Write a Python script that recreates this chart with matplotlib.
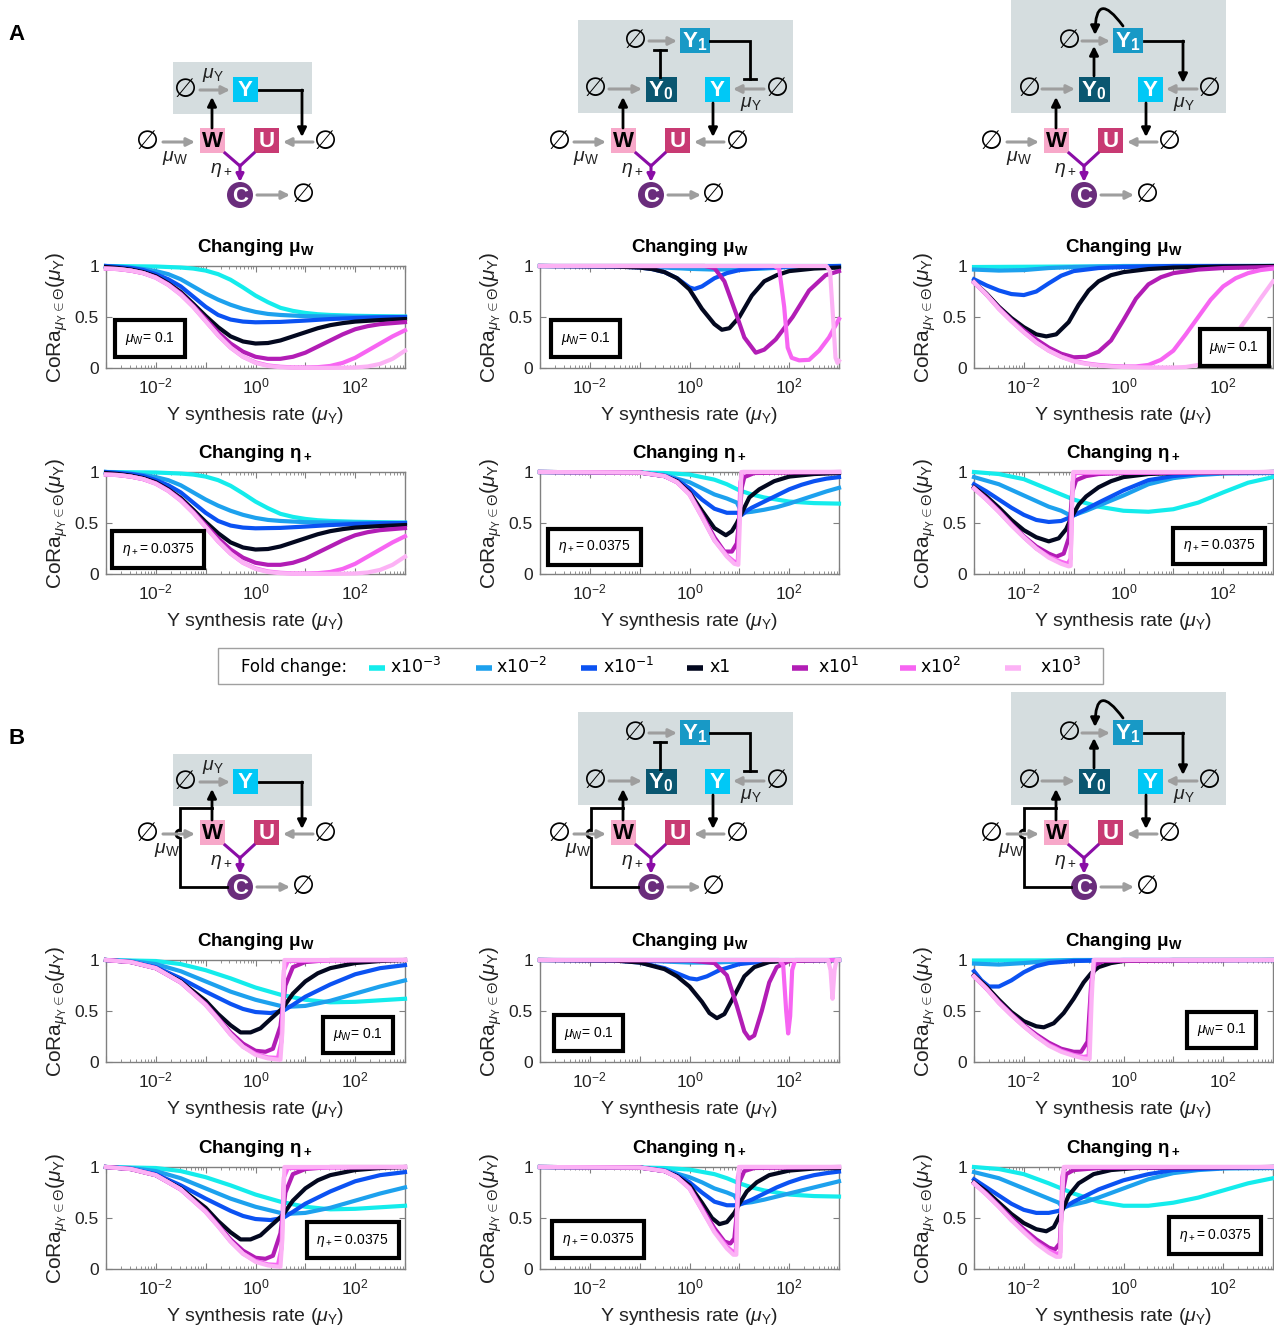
import numpy as np
import matplotlib
matplotlib.use('Agg')
import matplotlib.pyplot as plt
from matplotlib.patches import Rectangle, Circle, Arc, FancyArrowPatch
from matplotlib.ticker import FixedLocator, FuncFormatter, LogLocator, NullFormatter

plt.rcParams['font.family'] = ['Liberation Sans', 'DejaVu Sans']
plt.rcParams['mathtext.fontset'] = 'custom'
plt.rcParams['mathtext.rm'] = 'Liberation Sans'
plt.rcParams['mathtext.it'] = 'Liberation Sans:italic'
plt.rcParams['mathtext.bf'] = 'Liberation Sans:bold'

# fold changes applied to the parameter
folds = ['x10$^{-3}$', 'x10$^{-2}$', 'x10$^{-1}$', 'x1', 'x10$^{1}$', 'x10$^{2}$', 'x10$^{3}$']
fold_colors = ['#14ECEC', '#1DA1EE', '#0B52F2', '#03081F', '#B21DB5', '#F765F2', '#FCB2F5']

# CoRa curves: (log10 mu_Y, CoRa) pairs, one list per fold change
A_mu_c1 = [
    [(-3, 1.0), (-2, 0.995), (-1.5, 0.985), (-1.25, 0.975), (-1, 0.955), (-0.75, 0.92), (-0.5, 0.865), (-0.25, 0.79), (0, 0.71), (0.25, 0.645), (0.5, 0.59), (0.75, 0.56), (1, 0.54), (1.25, 0.527), (1.5, 0.52), (2, 0.512), (2.5, 0.508), (3, 0.505)],
    [(-3, 1.0), (-2.75, 0.995), (-2.5, 0.985), (-2.25, 0.97), (-2, 0.95), (-1.75, 0.92), (-1.5, 0.87), (-1.25, 0.80), (-1, 0.73), (-0.75, 0.67), (-0.5, 0.62), (-0.25, 0.58), (0, 0.55), (0.25, 0.53), (0.5, 0.52), (1, 0.508), (2, 0.503), (3, 0.50)],
    [(-3, 1.0), (-2.75, 0.99), (-2.5, 0.98), (-2.25, 0.96), (-2, 0.92), (-1.75, 0.87), (-1.5, 0.80), (-1.25, 0.70), (-1, 0.60), (-0.75, 0.52), (-0.5, 0.475), (-0.25, 0.455), (0, 0.448), (0.5, 0.452), (1, 0.465), (1.5, 0.48), (2, 0.49), (2.5, 0.497), (3, 0.50)],
    [(-3, 0.99), (-2.75, 0.98), (-2.5, 0.965), (-2.25, 0.94), (-2, 0.90), (-1.75, 0.83), (-1.5, 0.745), (-1.25, 0.63), (-1, 0.51), (-0.75, 0.40), (-0.5, 0.31), (-0.25, 0.26), (0, 0.24), (0.25, 0.245), (0.5, 0.27), (0.75, 0.31), (1, 0.35), (1.25, 0.39), (1.5, 0.42), (1.75, 0.44), (2, 0.455), (2.5, 0.47), (3, 0.48)],
    [(-3, 0.975), (-2.75, 0.97), (-2.5, 0.955), (-2.25, 0.93), (-2, 0.89), (-1.75, 0.82), (-1.5, 0.73), (-1.25, 0.61), (-1, 0.48), (-0.75, 0.35), (-0.5, 0.24), (-0.25, 0.16), (0, 0.11), (0.25, 0.09), (0.5, 0.09), (0.75, 0.11), (1, 0.15), (1.25, 0.21), (1.5, 0.27), (1.75, 0.33), (2, 0.38), (2.25, 0.41), (2.5, 0.43), (2.75, 0.44), (3, 0.45)],
    [(-3, 0.975), (-2.75, 0.97), (-2.5, 0.955), (-2.25, 0.93), (-2, 0.885), (-1.75, 0.815), (-1.5, 0.72), (-1.25, 0.60), (-1, 0.46), (-0.75, 0.32), (-0.5, 0.20), (-0.25, 0.11), (0, 0.055), (0.25, 0.025), (0.5, 0.012), (0.75, 0.006), (1, 0.005), (1.25, 0.008), (1.5, 0.02), (1.75, 0.05), (2, 0.10), (2.25, 0.17), (2.5, 0.24), (2.75, 0.31), (3, 0.37)],
    [(-3, 0.975), (-2.75, 0.97), (-2.5, 0.955), (-2.25, 0.93), (-2, 0.885), (-1.75, 0.815), (-1.5, 0.72), (-1.25, 0.60), (-1, 0.46), (-0.75, 0.32), (-0.5, 0.20), (-0.25, 0.11), (0, 0.05), (0.25, 0.02), (0.5, 0.008), (0.75, 0.003), (1, 0.001), (1.5, 0.001), (2, 0.005), (2.25, 0.015), (2.5, 0.04), (2.75, 0.09), (3, 0.17)],
]

A_mu_c2 = [
    [(-3, 1.0), (3, 1.0)],
    [(-3, 1.0), (-1, 0.995), (-0.5, 0.985), (0, 0.972), (0.5, 0.965), (1, 0.966), (1.5, 0.975), (2, 0.99), (3, 1.0)],
    [(-3, 1.0), (-1.5, 0.995), (-1, 0.985), (-0.75, 0.97), (-0.5, 0.94), (-0.25, 0.88), (0, 0.79), (0.1, 0.775), (0.25, 0.80), (0.5, 0.88), (0.75, 0.93), (1, 0.96), (1.5, 0.985), (2, 0.995), (3, 1.0)],
    [(-3, 1.0), (-1.5, 0.995), (-1, 0.985), (-0.75, 0.97), (-0.5, 0.94), (-0.25, 0.88), (0, 0.77), (0.25, 0.58), (0.5, 0.43), (0.65, 0.375), (0.8, 0.39), (1, 0.50), (1.25, 0.71), (1.5, 0.85), (1.75, 0.91), (2, 0.95), (2.5, 0.975), (3, 0.985)],
    [(-3, 1.0), (0.3, 1.0), (0.5, 0.98), (0.7, 0.85), (0.93, 0.54), (1.1, 0.30), (1.33, 0.15), (1.5, 0.18), (1.73, 0.28), (2.07, 0.50), (2.4, 0.76), (2.73, 0.91), (3, 0.95)],
    [(-3, 1.0), (1.7, 1.0), (1.8, 0.97), (1.9, 0.6), (1.97, 0.2), (2.05, 0.1), (2.2, 0.075), (2.4, 0.08), (2.6, 0.17), (2.8, 0.30), (3, 0.48)],
    [(-3, 1.0), (2.75, 1.0), (2.82, 0.95), (2.88, 0.5), (2.93, 0.1), (2.97, 0.05), (3, 0.07)],
]

A_mu_c3 = [
    [(-3, 0.99), (-1, 0.995), (3, 1.0)],
    [(-3, 0.965), (-2.5, 0.955), (-2, 0.96), (-1.5, 0.98), (-1, 0.99), (0, 1.0), (3, 1.0)],
    [(-3, 0.87), (-2.75, 0.81), (-2.5, 0.76), (-2.25, 0.725), (-2, 0.715), (-1.75, 0.75), (-1.5, 0.83), (-1.25, 0.905), (-1, 0.95), (-0.5, 0.98), (0, 0.99), (1, 1.0), (3, 1.0)],
    [(-3, 0.84), (-2.75, 0.73), (-2.5, 0.60), (-2.25, 0.49), (-2, 0.40), (-1.75, 0.33), (-1.55, 0.31), (-1.35, 0.33), (-1.1, 0.45), (-0.9, 0.62), (-0.7, 0.76), (-0.5, 0.85), (-0.25, 0.91), (0, 0.94), (0.5, 0.97), (1, 0.985), (2, 0.995), (3, 1.0)],
    [(-3, 0.84), (-2.75, 0.72), (-2.5, 0.59), (-2.25, 0.47), (-2, 0.37), (-1.75, 0.28), (-1.5, 0.20), (-1.25, 0.14), (-1, 0.105), (-0.75, 0.11), (-0.5, 0.16), (-0.25, 0.27), (0, 0.47), (0.25, 0.68), (0.5, 0.82), (0.75, 0.89), (1, 0.93), (1.5, 0.965), (2, 0.98), (3, 0.99)],
    [(-3, 0.84), (-2.75, 0.72), (-2.5, 0.58), (-2.25, 0.46), (-2, 0.35), (-1.75, 0.25), (-1.5, 0.17), (-1.25, 0.11), (-1, 0.07), (-0.75, 0.045), (-0.5, 0.03), (-0.25, 0.02), (0, 0.015), (0.25, 0.015), (0.5, 0.03), (0.75, 0.08), (1, 0.17), (1.25, 0.33), (1.5, 0.50), (1.75, 0.67), (2, 0.80), (2.25, 0.88), (2.5, 0.93), (2.75, 0.96), (3, 0.975)],
    [(-3, 0.84), (-2.75, 0.72), (-2.5, 0.58), (-2.25, 0.46), (-2, 0.35), (-1.75, 0.25), (-1.5, 0.17), (-1.25, 0.11), (-1, 0.065), (-0.75, 0.04), (-0.5, 0.025), (-0.25, 0.015), (0, 0.01), (0.5, 0.005), (1, 0.005), (1.25, 0.01), (1.5, 0.03), (1.75, 0.08), (2, 0.18), (2.25, 0.33), (2.5, 0.50), (2.75, 0.68), (3, 0.85)],
]

# the eta_+ sweep for the single-Y controller gives the same profiles
A_eta_c1 = A_mu_c1

A_eta_c2 = [
    [(-3, 1.0), (-1, 0.995), (-0.5, 0.99), (0, 0.975), (0.5, 0.925), (0.75, 0.88), (1, 0.82), (1.25, 0.78), (1.5, 0.75), (2, 0.71), (2.5, 0.695), (3, 0.69)],
    [(-3, 1.0), (-1, 0.995), (-0.5, 0.97), (0, 0.90), (0.25, 0.84), (0.5, 0.78), (0.75, 0.74), (0.95, 0.70), (1.05, 0.60), (1.25, 0.61), (1.5, 0.63), (1.75, 0.655), (2, 0.69), (2.25, 0.73), (2.5, 0.77), (2.75, 0.81), (3, 0.845)],
    [(-3, 1.0), (-1, 0.995), (-0.5, 0.96), (-0.25, 0.92), (0, 0.84), (0.25, 0.73), (0.5, 0.64), (0.75, 0.60), (0.95, 0.60), (1.05, 0.58), (1.15, 0.62), (1.25, 0.65), (1.5, 0.71), (1.75, 0.77), (2, 0.83), (2.25, 0.875), (2.5, 0.91), (2.75, 0.935), (3, 0.95)],
    [(-3, 1.0), (-1, 0.995), (-0.5, 0.96), (-0.25, 0.91), (0, 0.80), (0.25, 0.62), (0.5, 0.45), (0.73, 0.38), (0.85, 0.42), (0.95, 0.50), (1.05, 0.60), (1.2, 0.75), (1.4, 0.83), (1.7, 0.91), (2, 0.955), (2.5, 0.98), (3, 0.99)],
    [(-3, 1.0), (-1, 0.995), (-0.5, 0.96), (-0.25, 0.90), (0, 0.79), (0.25, 0.58), (0.5, 0.36), (0.7, 0.22), (0.85, 0.22), (0.95, 0.30), (1.0, 0.55), (1.05, 0.85), (1.1, 0.95), (1.3, 0.99), (3, 1.0)],
    [(-3, 1.0), (-1, 0.995), (-0.5, 0.96), (-0.25, 0.90), (0, 0.78), (0.25, 0.56), (0.5, 0.33), (0.75, 0.18), (0.9, 0.12), (0.97, 0.12), (1.02, 0.9), (1.07, 1.0), (3, 1.0)],
    [(-3, 1.0), (-1, 0.995), (-0.5, 0.96), (-0.25, 0.90), (0, 0.78), (0.25, 0.56), (0.5, 0.33), (0.75, 0.17), (0.9, 0.10), (0.98, 0.09), (1.01, 0.5), (1.04, 1.0), (3, 1.0)],
]

A_eta_c3 = [
    [(-3, 1.0), (-2.5, 0.98), (-2, 0.93), (-1.5, 0.83), (-1, 0.73), (-0.5, 0.66), (0, 0.62), (0.5, 0.61), (1, 0.635), (1.5, 0.70), (2, 0.80), (2.5, 0.895), (3, 0.95)],
    [(-3, 0.95), (-2.5, 0.88), (-2, 0.77), (-1.5, 0.66), (-1.25, 0.62), (-1.05, 0.57), (-0.95, 0.585), (-0.75, 0.62), (-0.5, 0.67), (0, 0.77), (0.5, 0.88), (1, 0.94), (1.5, 0.97), (2, 0.985), (3, 0.99)],
    [(-3, 0.88), (-2.75, 0.81), (-2.5, 0.73), (-2.25, 0.65), (-2, 0.58), (-1.75, 0.53), (-1.5, 0.51), (-1.25, 0.52), (-1.05, 0.56), (-0.9, 0.60), (-0.5, 0.70), (0, 0.82), (0.5, 0.92), (1, 0.96), (1.5, 0.985), (2, 0.99), (3, 1.0)],
    [(-3, 0.85), (-2.75, 0.76), (-2.5, 0.65), (-2.25, 0.53), (-2, 0.43), (-1.75, 0.36), (-1.5, 0.32), (-1.3, 0.35), (-1.15, 0.44), (-1.05, 0.55), (-0.9, 0.68), (-0.75, 0.76), (-0.5, 0.85), (-0.25, 0.91), (0, 0.95), (0.5, 0.98), (1, 0.99), (3, 1.0)],
    [(-3, 0.84), (-2.75, 0.74), (-2.5, 0.62), (-2.25, 0.49), (-2, 0.37), (-1.75, 0.27), (-1.5, 0.20), (-1.35, 0.17), (-1.2, 0.20), (-1.1, 0.35), (-1.03, 0.80), (-0.95, 0.92), (-0.75, 0.96), (-0.5, 0.98), (0, 0.99), (3, 1.0)],
    [(-3, 0.84), (-2.75, 0.73), (-2.5, 0.61), (-2.25, 0.48), (-2, 0.36), (-1.75, 0.25), (-1.5, 0.17), (-1.25, 0.12), (-1.12, 0.10), (-1.06, 0.15), (-1.02, 0.9), (-0.97, 0.99), (3, 1.0)],
    [(-3, 0.84), (-2.75, 0.73), (-2.5, 0.61), (-2.25, 0.48), (-2, 0.36), (-1.75, 0.25), (-1.5, 0.16), (-1.25, 0.10), (-1.1, 0.075), (-1.06, 0.08), (-1.04, 0.6), (-1.01, 1.0), (3, 1.0)],
]

B_mu_c1 = [
    [(-3, 1.0), (-2, 0.99), (-1.5, 0.96), (-1, 0.90), (-0.5, 0.82), (0, 0.73), (0.5, 0.66), (1, 0.61), (1.5, 0.585), (2, 0.59), (2.5, 0.605), (3, 0.62)],
    [(-3, 1.0), (-2.5, 0.99), (-2, 0.96), (-1.5, 0.89), (-1, 0.79), (-0.5, 0.69), (0, 0.61), (0.5, 0.55), (0.6, 0.54), (1, 0.55), (1.5, 0.60), (2, 0.67), (2.5, 0.74), (3, 0.80)],
    [(-3, 1.0), (-2.5, 0.98), (-2, 0.93), (-1.5, 0.82), (-1, 0.69), (-0.5, 0.57), (-0.25, 0.52), (0, 0.49), (0.3, 0.48), (0.55, 0.50), (0.75, 0.56), (1, 0.64), (1.5, 0.76), (2, 0.86), (2.5, 0.92), (3, 0.95)],
    [(-3, 1.0), (-2.5, 0.98), (-2, 0.92), (-1.5, 0.79), (-1, 0.60), (-0.75, 0.47), (-0.5, 0.36), (-0.3, 0.29), (-0.1, 0.29), (0.1, 0.33), (0.3, 0.42), (0.55, 0.53), (0.75, 0.67), (1, 0.79), (1.25, 0.87), (1.5, 0.92), (2, 0.97), (2.5, 0.99), (3, 1.0)],
    [(-3, 1.0), (-2.5, 0.98), (-2, 0.92), (-1.5, 0.78), (-1, 0.57), (-0.75, 0.43), (-0.5, 0.29), (-0.25, 0.18), (0, 0.11), (0.2, 0.10), (0.35, 0.13), (0.5, 0.35), (0.6, 0.75), (0.75, 0.93), (1, 0.98), (1.5, 1.0), (3, 1.0)],
    [(-3, 1.0), (-2.5, 0.98), (-2, 0.92), (-1.5, 0.78), (-1, 0.56), (-0.75, 0.42), (-0.5, 0.27), (-0.25, 0.15), (0, 0.08), (0.25, 0.045), (0.45, 0.04), (0.52, 0.2), (0.57, 0.9), (0.65, 0.99), (3, 1.0)],
    [(-3, 1.0), (-2.5, 0.98), (-2, 0.92), (-1.5, 0.78), (-1, 0.56), (-0.75, 0.42), (-0.5, 0.27), (-0.25, 0.15), (0, 0.07), (0.25, 0.035), (0.5, 0.02), (0.54, 0.3), (0.58, 1.0), (3, 1.0)],
]

B_mu_c2 = [
    [(-3, 1.0), (3, 1.0)],
    [(-3, 1.0), (-1, 0.995), (-0.5, 0.985), (0, 0.975), (0.5, 0.975), (1, 0.985), (1.5, 0.995), (3, 1.0)],
    [(-3, 1.0), (-1.5, 0.995), (-1, 0.975), (-0.5, 0.92), (-0.25, 0.87), (0, 0.82), (0.15, 0.81), (0.35, 0.84), (0.6, 0.90), (1, 0.96), (1.5, 0.985), (2, 0.995), (3, 1.0)],
    [(-3, 1.0), (-1.5, 0.995), (-1, 0.975), (-0.5, 0.91), (-0.25, 0.84), (0, 0.74), (0.25, 0.59), (0.4, 0.48), (0.55, 0.43), (0.7, 0.47), (0.9, 0.65), (1.1, 0.84), (1.3, 0.93), (1.6, 0.98), (2, 0.995), (3, 1.0)],
    [(-3, 1.0), (0, 0.995), (0.5, 0.97), (0.75, 0.85), (0.95, 0.55), (1.1, 0.30), (1.2, 0.23), (1.3, 0.26), (1.45, 0.50), (1.6, 0.78), (1.75, 0.93), (2, 0.99), (3, 1.0)],
    [(-3, 1.0), (1.8, 1.0), (1.88, 0.95), (1.94, 0.5), (1.98, 0.28), (2.02, 0.45), (2.06, 0.9), (2.12, 1.0), (3, 1.0)],
    [(-3, 1.0), (2.78, 1.0), (2.83, 0.9), (2.87, 0.62), (2.91, 0.9), (2.95, 1.0), (3, 1.0)],
]

B_mu_c3 = [
    [(-3, 0.995), (3, 1.0)],
    [(-3, 0.965), (-2.5, 0.955), (-2, 0.97), (-1.5, 0.99), (-1, 1.0), (3, 1.0)],
    [(-3, 0.89), (-2.85, 0.80), (-2.7, 0.74), (-2.5, 0.74), (-2.25, 0.80), (-2, 0.88), (-1.75, 0.94), (-1.5, 0.97), (-1, 0.99), (0, 1.0), (3, 1.0)],
    [(-3, 0.85), (-2.75, 0.74), (-2.5, 0.61), (-2.25, 0.49), (-2, 0.40), (-1.75, 0.35), (-1.6, 0.34), (-1.4, 0.38), (-1.2, 0.48), (-1, 0.62), (-0.8, 0.78), (-0.65, 0.87), (-0.5, 0.93), (-0.25, 0.97), (0, 0.99), (1, 1.0), (3, 1.0)],
    [(-3, 0.84), (-2.75, 0.72), (-2.5, 0.59), (-2.25, 0.47), (-2, 0.36), (-1.75, 0.27), (-1.5, 0.19), (-1.25, 0.13), (-1, 0.10), (-0.85, 0.10), (-0.72, 0.20), (-0.65, 0.75), (-0.58, 0.95), (-0.4, 0.99), (3, 1.0)],
    [(-3, 0.84), (-2.75, 0.72), (-2.5, 0.58), (-2.25, 0.46), (-2, 0.35), (-1.75, 0.25), (-1.5, 0.17), (-1.25, 0.11), (-1, 0.07), (-0.8, 0.05), (-0.7, 0.06), (-0.64, 0.8), (-0.58, 1.0), (3, 1.0)],
    [(-3, 0.84), (-2.75, 0.72), (-2.5, 0.58), (-2.25, 0.46), (-2, 0.35), (-1.75, 0.25), (-1.5, 0.16), (-1.25, 0.10), (-1, 0.06), (-0.8, 0.035), (-0.68, 0.03), (-0.64, 0.6), (-0.6, 1.0), (3, 1.0)],
]

# the eta_+ sweep with the W feedback matches the mu_W sweep
B_eta_c1 = B_mu_c1

B_eta_c2 = [
    [(-3, 1.0), (-1, 0.995), (-0.5, 0.99), (0, 0.975), (0.5, 0.93), (0.75, 0.89), (1, 0.84), (1.25, 0.80), (1.5, 0.77), (2, 0.73), (2.5, 0.715), (3, 0.71)],
    [(-3, 1.0), (-1, 0.995), (-0.5, 0.97), (0, 0.90), (0.25, 0.85), (0.5, 0.79), (0.75, 0.75), (0.9, 0.72), (1.0, 0.64), (1.25, 0.655), (1.5, 0.68), (1.75, 0.71), (2, 0.74), (2.25, 0.77), (2.5, 0.80), (2.75, 0.83), (3, 0.86)],
    [(-3, 1.0), (-1, 0.995), (-0.5, 0.96), (-0.25, 0.92), (0, 0.85), (0.25, 0.75), (0.5, 0.66), (0.75, 0.625), (0.9, 0.625), (1.0, 0.63), (1.15, 0.66), (1.25, 0.68), (1.5, 0.74), (1.75, 0.80), (2, 0.85), (2.25, 0.89), (2.5, 0.92), (2.75, 0.94), (3, 0.955)],
    [(-3, 1.0), (-1, 0.995), (-0.5, 0.96), (-0.25, 0.91), (0, 0.82), (0.25, 0.65), (0.45, 0.50), (0.6, 0.44), (0.75, 0.46), (0.9, 0.55), (1.0, 0.64), (1.15, 0.76), (1.35, 0.85), (1.6, 0.92), (2, 0.965), (2.5, 0.985), (3, 0.99)],
    [(-3, 1.0), (-1, 0.995), (-0.5, 0.96), (-0.25, 0.90), (0, 0.80), (0.25, 0.60), (0.5, 0.40), (0.7, 0.27), (0.82, 0.25), (0.9, 0.30), (0.95, 0.55), (1.0, 0.85), (1.1, 0.96), (1.3, 0.99), (3, 1.0)],
    [(-3, 1.0), (-1, 0.995), (-0.5, 0.96), (-0.25, 0.90), (0, 0.79), (0.25, 0.58), (0.5, 0.37), (0.75, 0.22), (0.87, 0.17), (0.93, 0.18), (0.97, 0.9), (1.02, 1.0), (3, 1.0)],
    [(-3, 1.0), (-1, 0.995), (-0.5, 0.96), (-0.25, 0.90), (0, 0.79), (0.25, 0.58), (0.5, 0.36), (0.75, 0.20), (0.88, 0.14), (0.94, 0.14), (0.96, 0.6), (0.99, 1.0), (3, 1.0)],
]

B_eta_c3 = [
    [(-3, 1.0), (-2.5, 0.98), (-2, 0.93), (-1.5, 0.84), (-1, 0.74), (-0.5, 0.66), (0, 0.62), (0.5, 0.62), (1, 0.65), (1.5, 0.70), (2, 0.77), (2.5, 0.84), (3, 0.89)],
    [(-3, 0.95), (-2.5, 0.89), (-2, 0.79), (-1.5, 0.69), (-1.3, 0.65), (-1.22, 0.60), (-1.1, 0.62), (-0.75, 0.66), (-0.5, 0.70), (0, 0.79), (0.5, 0.88), (1, 0.94), (1.5, 0.97), (2, 0.985), (3, 0.99)],
    [(-3, 0.88), (-2.75, 0.80), (-2.5, 0.72), (-2.25, 0.64), (-2, 0.58), (-1.75, 0.55), (-1.5, 0.55), (-1.3, 0.57), (-1.2, 0.60), (-1.0, 0.66), (-0.5, 0.78), (0, 0.87), (0.5, 0.93), (1, 0.97), (2, 0.99), (3, 1.0)],
    [(-3, 0.85), (-2.75, 0.76), (-2.5, 0.65), (-2.25, 0.54), (-2, 0.45), (-1.75, 0.39), (-1.55, 0.37), (-1.4, 0.41), (-1.25, 0.55), (-1.1, 0.72), (-0.9, 0.84), (-0.6, 0.93), (-0.25, 0.97), (0.25, 0.99), (3, 1.0)],
    [(-3, 0.84), (-2.75, 0.74), (-2.5, 0.62), (-2.25, 0.50), (-2, 0.39), (-1.75, 0.29), (-1.5, 0.21), (-1.38, 0.19), (-1.28, 0.25), (-1.22, 0.75), (-1.15, 0.93), (-1, 0.97), (-0.5, 0.99), (3, 1.0)],
    [(-3, 0.84), (-2.75, 0.73), (-2.5, 0.61), (-2.25, 0.48), (-2, 0.37), (-1.75, 0.26), (-1.5, 0.18), (-1.35, 0.15), (-1.27, 0.16), (-1.23, 0.9), (-1.18, 1.0), (3, 1.0)],
    [(-3, 0.84), (-2.75, 0.73), (-2.5, 0.61), (-2.25, 0.48), (-2, 0.36), (-1.75, 0.25), (-1.5, 0.16), (-1.35, 0.12), (-1.27, 0.12), (-1.24, 0.6), (-1.2, 1.0), (3, 1.0)],
]

W_PX, H_PX = 1274, 1331
fig = plt.figure(figsize=(W_PX / 100, H_PX / 100), dpi=100)

# background layer in pixel units for the network sketches and the legend
lay = fig.add_axes([0, 0, 1, 1])
lay.set_xlim(0, W_PX)
lay.set_ylim(H_PX, 0)
lay.axis('off')

GRAY = '#9E9E9E'
BG = '#D5DDDF'
COL_Y, COL_Y1, COL_Y0 = '#00C8F6', '#1899C6', '#0A5670'
COL_W, COL_U, COL_C = '#F7A8C9', '#C83A73', '#6A2D7C'
PURP = '#8A0DA6'


def arrow(x0, y0, x1, y1, color='black', lw=2.0, ms=13):
    lay.annotate('', xy=(x1, y1), xytext=(x0, y0),
                 arrowprops=dict(arrowstyle='-|>', color=color, lw=lw, mutation_scale=ms,
                                 shrinkA=0, shrinkB=0))


def gray_arrow(x0, y, x1):
    arrow(x0, y, x1, y, color=GRAY, lw=2.2, ms=12)


def poly_arrow(pts):
    xs, ys = zip(*pts)
    lay.plot(xs[:-1], ys[:-1], color='black', lw=2, solid_joinstyle='miter')
    arrow(pts[-2][0], pts[-2][1], pts[-1][0], pts[-1][1])


def inhibit(pts, bar=6):
    xs, ys = zip(*pts)
    lay.plot(xs, ys, color='black', lw=2, solid_joinstyle='miter')
    (xa, ya), (xb, yb) = pts[-2], pts[-1]
    if xa == xb:
        lay.plot([xb - bar, xb + bar], [yb, yb], color='black', lw=2)
    else:
        lay.plot([xb, xb], [yb - bar, yb + bar], color='black', lw=2)


def null(x, y):
    lay.text(x, y, '\u2205', fontsize=19, ha='center', va='center', family='DejaVu Sans')


def node(cx, cy, txt, fc, tc='white', w=25, h=25):
    lay.add_patch(Rectangle((cx - w / 2, cy - h / 2), w, h, fc=fc, ec='none'))
    lay.text(cx, cy + 1, txt, color=tc, ha='center', va='center', fontsize=16, fontweight='bold')


def rate(x, y, txt):
    lay.text(x, y, txt, ha='center', va='center', fontsize=14, color='#222222')


def lower_part(wx, dy, feedback):
    y = lambda v: v + dy
    node(wx + 12.5, y(140.5), 'W', COL_W, tc='black')
    node(wx + 66.5, y(140.5), 'U', COL_U)
    null(wx - 52, y(142))
    gray_arrow(wx - 37, y(142), wx - 5)
    if feedback:
        rate(wx - 33, y(158), r'$\mu_{\rm W}$')
    else:
        rate(wx - 25, y(158), r'$\mu_{\rm W}$')
    null(wx + 126, y(142))
    gray_arrow(wx + 113, y(142), wx + 83)
    # W and U annihilate into C
    lay.plot([wx + 25, wx + 40, wx + 54], [y(153), y(166), y(153)], color=PURP, lw=2.2)
    arrow(wx + 40, y(165), wx + 40, y(182), color=PURP, lw=2.2, ms=11)
    rate(wx + 21, y(170), r'$\eta_+$')
    lay.add_patch(Circle((wx + 40, y(195)), 13, fc=COL_C, ec='none'))
    lay.text(wx + 40, y(196), 'C', color='white', ha='center', va='center', fontsize=16, fontweight='bold')
    gray_arrow(wx + 57, y(195), wx + 90)
    null(wx + 103, y(195))
    arrow(wx + 12, y(128), wx + 12, y(97))
    if feedback:
        lay.plot([wx + 27, wx - 20, wx - 20], [y(195), y(195), y(146)], color='black', lw=2,
                 solid_joinstyle='miter')
        lay.add_patch(Arc((wx - 20, y(142)), 8, 8, theta1=90, theta2=270, color='black', lw=2))
        lay.plot([wx - 20, wx - 20, wx + 12], [y(138), y(116), y(116)], color='black', lw=2,
                 solid_joinstyle='miter')


def network_simple(wx, dy, feedback=False):
    lay.add_patch(Rectangle((wx - 27, 62 + dy), 139, 52, fc=BG, ec='none'))
    null(wx - 15, 90 + dy)
    gray_arrow(wx, 90 + dy, wx + 30)
    rate(wx + 13, 75 + dy, r'$\mu_{\rm Y}$')
    node(wx + 45.5, 89.5 + dy, 'Y', COL_Y)
    poly_arrow([(wx + 59, 90 + dy), (wx + 102, 90 + dy), (wx + 102, 137 + dy)])
    lower_part(wx, dy, feedback)


def network_two(wx, dy, loop, feedback=False):
    lay.add_patch(Rectangle((wx - 33, dy + (0 if loop else 20)), 215, 113 if loop else 93,
                            fc=BG, ec='none'))
    null(wx + 25, 41 + dy)
    gray_arrow(wx + 38, 41 + dy, wx + 66)
    node(wx + 83.5, 40.5 + dy, r'$\mathbf{Y_1}$', COL_Y1, w=30)
    node(wx + 50, 89.5 + dy, r'$\mathbf{Y_0}$', COL_Y0, w=31)
    null(wx - 15, 89 + dy)
    gray_arrow(wx - 2, 89 + dy, wx + 31)
    node(wx + 106, 89.5 + dy, 'Y', COL_Y)
    null(wx + 166, 89 + dy)
    gray_arrow(wx + 153, 89 + dy, wx + 122)
    rate(wx + 140, 104 + dy, r'$\mu_{\rm Y}$')
    arrow(wx + 102, 103 + dy, wx + 102, 137 + dy)
    if loop:
        # Y0 activates Y1 production, Y1 activates itself and Y
        arrow(wx + 50, 76 + dy, wx + 50, 46 + dy)
        lay.add_patch(FancyArrowPatch((wx + 79, 26 + dy), (wx + 51, 35 + dy),
                                      connectionstyle='arc3,rad=1.5', arrowstyle='-|>',
                                      mutation_scale=13, lw=2, color='black',
                                      shrinkA=0, shrinkB=0))
        poly_arrow([(wx + 100, 41 + dy), (wx + 139, 41 + dy), (wx + 139, 83 + dy)])
    else:
        # Y0 represses Y1 production, Y1 represses Y
        inhibit([(wx + 49, 77 + dy), (wx + 49, 50 + dy)])
        inhibit([(wx + 99, 41 + dy), (wx + 139, 41 + dy), (wx + 139, 79 + dy)])
    lower_part(wx, dy, feedback)


network_simple(200, 0)
network_two(611, 0, loop=False)
network_two(1044, 0, loop=True)
network_simple(200, 692, feedback=True)
network_two(611, 692, loop=False, feedback=True)
network_two(1044, 692, loop=True, feedback=True)

lay.text(8, 35, 'A', fontsize=16, fontweight='bold', va='center')
lay.text(8, 738, 'B', fontsize=16, fontweight='bold', va='center')

# legend of fold changes
lay.add_patch(Rectangle((218, 648), 885, 36, fc='white', ec='#A0A0A0', lw=1))
lay.text(241, 667, 'Fold change:', fontsize=12, va='center', family='DejaVu Sans')
leg_x = [369, 476, 581, 687, 792, 900, 1005]
leg_tx = [390, 496, 603, 710, 818, 920, 1040]
for lx, tx, lab, col in zip(leg_x, leg_tx, folds, fold_colors):
    lay.plot([lx, lx + 16], [668, 668], color=col, lw=4, solid_capstyle='butt')
    lay.text(tx, 667, lab, fontsize=12.5, va='center', family='DejaVu Sans',
             math_fontfamily='dejavusans')


def fmt_decade(v, pos):
    e = int(round(np.log10(v)))
    return r'$10^{%d}$' % e if e in (-2, 0, 2) else ''


def cora_panel(left, top, curves, title, box_txt, box_xy):
    ax = fig.add_axes([left / W_PX, 1 - (top + 102) / H_PX, 299 / W_PX, 102 / H_PX])
    for pts, col in zip(curves, fold_colors):
        lx, cv = zip(*pts)
        ax.plot(10.0 ** np.array(lx, dtype=float), cv, color=col, lw=3, clip_on=False, zorder=3)
    ax.set_xscale('log')
    ax.set_xlim(1e-3, 1e3)
    ax.set_ylim(0, 1)
    ax.xaxis.set_major_locator(FixedLocator([1e-3, 1e-2, 1e-1, 1, 1e1, 1e2, 1e3]))
    ax.xaxis.set_major_formatter(FuncFormatter(fmt_decade))
    ax.xaxis.set_minor_locator(LogLocator(base=10, subs=np.arange(2, 10), numticks=20))
    ax.xaxis.set_minor_formatter(NullFormatter())
    ax.set_yticks([0, 0.5, 1])
    ax.set_yticklabels(['0', '0.5', '1'])
    ax.tick_params(which='both', direction='in', top=True, right=True, color='#808080',
                   labelsize=12.5, labelcolor='#222222')
    ax.tick_params(which='major', length=4, pad=6)
    ax.tick_params(which='minor', length=2)
    ax.tick_params(axis='y', pad=5)
    for sp in ax.spines.values():
        sp.set_color('#808080')
        sp.set_linewidth(1)
    ax.set_title(title, fontsize=13.5, fontweight='bold', pad=10)
    ax.set_xlabel(r'Y synthesis rate ($\mu_{\rm Y}$)', fontsize=14, color='#222222')
    ax.xaxis.set_label_coords(0.5, -0.36)
    ax.set_ylabel(r'CoRa$_{\mu_{\rm Y}\in\Theta}(\mu_{\rm Y})$', fontsize=15, color='#222222')
    ax.yaxis.set_label_coords(-0.12, 0.5)
    ax.text(box_xy[0], box_xy[1], box_txt, transform=ax.transAxes, ha='center', va='center',
            fontsize=10, zorder=6,
            bbox=dict(boxstyle='square,pad=0.7', fc='white', ec='black', lw=3))
    return ax


t_mu = r'Changing $\mathbf{\mu_W}$'
t_eta = r'Changing $\mathbf{\eta_+}$'
b_mu = r'$\mu_{\rm W}$= 0.1'
b_eta = r'$\eta_+$= 0.0375'

cols = [106, 540, 974]
cora_panel(cols[0], 266, A_mu_c1, t_mu, b_mu, (0.147, 0.29))
cora_panel(cols[1], 266, A_mu_c2, t_mu, b_mu, (0.153, 0.29))
cora_panel(cols[2], 266, A_mu_c3, t_mu, b_mu, (0.871, 0.2))
cora_panel(cols[0], 472, A_eta_c1, t_eta, b_eta, (0.175, 0.24))
cora_panel(cols[1], 472, A_eta_c2, t_eta, b_eta, (0.182, 0.265))
cora_panel(cols[2], 472, A_eta_c3, t_eta, b_eta, (0.82, 0.275))
cora_panel(cols[0], 960, B_mu_c1, t_mu, b_mu, (0.843, 0.265))
cora_panel(cols[1], 960, B_mu_c2, t_mu, b_mu, (0.163, 0.284))
cora_panel(cols[2], 960, B_mu_c3, t_mu, b_mu, (0.828, 0.314))
cora_panel(cols[0], 1167, B_eta_c1, t_eta, b_eta, (0.825, 0.284))
cora_panel(cols[1], 1167, B_eta_c2, t_eta, b_eta, (0.195, 0.29))
cora_panel(cols[2], 1167, B_eta_c3, t_eta, b_eta, (0.806, 0.33))

fig.savefig('out.png', dpi=100)
